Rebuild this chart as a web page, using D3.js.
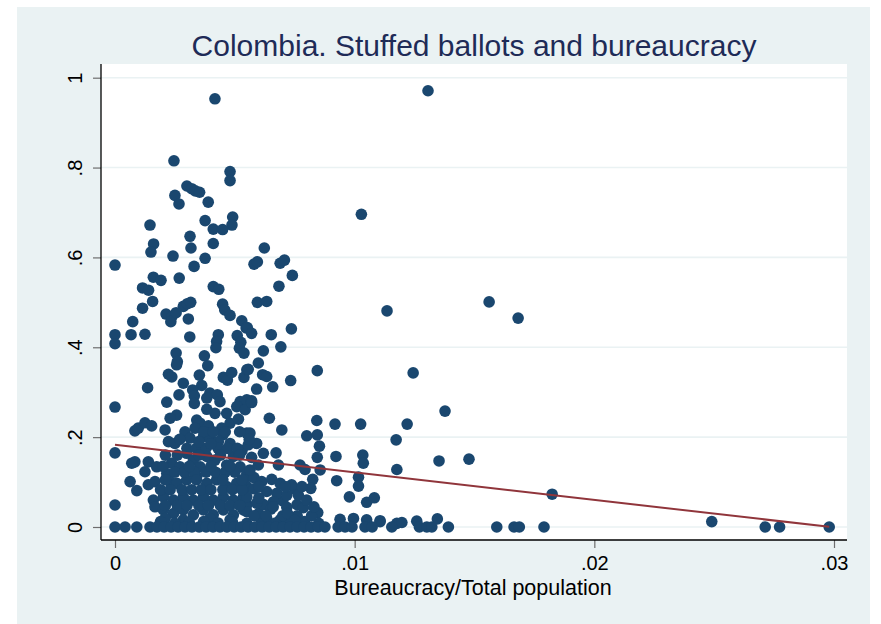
<!DOCTYPE html>
<html>
<head>
<meta charset="utf-8">
<script src="https://cdn.jsdelivr.net/npm/d3@7"></script>
<style>
  html, body { margin: 0; padding: 0; background: #ffffff; }
  svg { display: block; }
</style>
</head>
<body>
<svg id="chart" width="881" height="624"></svg>
<script>
// Axis ticks and their labels
const xTicks = [0, 0.01, 0.02, 0.03];
const xTickLabels = ["0", ".01", ".02", ".03"];
const yTicks = [0, 0.2, 0.4, 0.6, 0.8, 1];
const yTickLabels = ["0", ".2", ".4", ".6", ".8", "1"];

// Linear fit of stuffed ballots on bureaucracy share
const fitIntercept = 0.183;
const fitSlope = -6.13;
const fitRange = [0, 0.0298];

// Municipalities: [bureaucracy / total population, stuffed ballots share]
const upperPoints = [
  [.00417,.953],[.01306,.971],[.00246,.815],[.00480,.791],[.00480,.771],
  [.00300,.759],[.00320,.753],[.00335,.748],[.00353,.745],
  [.00250,.738],[.00267,.719],[.00389,.723],
  [.00146,.672],[.00376,.682],[.00491,.690],[.00488,.672],
  [.00410,.663],[.00449,.662],[.00313,.647],
  [.00161,.630],[.00150,.612],[.00317,.621],[.00410,.631],
  [.00242,.603],[.00376,.598],[0,.583],[.00330,.580],
  [.00623,.621],[.00580,.585],[.00594,.590],[.00689,.587],[.00707,.594],[.01028,.696]
];

const midPoints = [
  [.00160,.556],[.00192,.549],[.00268,.554],
  [.00115,.532],[.00140,.527],[.00410,.535],[.00433,.529],
  [.00157,.502],[.00115,.487],[.00285,.491],[.00302,.497],[.00316,.500],
  [.00213,.474],[.00237,.468],[.00233,.457],[.00255,.477],[.00306,.463],
  [.00449,.496],[.00458,.483],[.00480,.471],
  [.00074,.457],[.00529,.459],[.00547,.443],
  [0,.428],[0,.408],[.00067,.428],[.00125,.429],[.00312,.423],
  [.00431,.428],[.00424,.413],[.00421,.399],
  [.00510,.426],[.00525,.411],[.00519,.398],[.00538,.387],
  [.00255,.387],[.00260,.368],[.00257,.361],[.00373,.381],[.00387,.359],
  [.00223,.340],[.00237,.334],[.00352,.338],
  [.00452,.333],[.00469,.327],[.00487,.344],[.00538,.333],[.00550,.350],
  [.00285,.320],[.00136,.310],[.00362,.315],[.00324,.305],[.00331,.292],
  [.00267,.294],[.00396,.298],[.00427,.294],[.00383,.287],
  [0,.267],[.00216,.278],[.00331,.275],[.00438,.279],[.00522,.279],[.00550,.283],
  [.00740,.560],[.00684,.536],[.00594,.500],[.00633,.502],[.01135,.481],
  [.00552,.444],[.00570,.431],[.00736,.441],[.00652,.428],[.00692,.401],[.00619,.392],
  [.00598,.365],[.00556,.351],[.00616,.339],[.00633,.335],[.00844,.348],[.00733,.326],
  [.00591,.307],[.00658,.312],[.00570,.281],
  [.01561,.501],[.01682,.465],[.01244,.343],[.01377,.258]
];

const lowPoints = [
  [.00257,.249],[.00230,.242],[.00341,.238],[.00355,.231],[.00334,.220],
  [.00083,.214],[.00097,.220],[.00125,.232],[.00153,.225],[.00209,.216],[.00292,.212],
  [0,.165],[.00223,.190],[.00250,.186],[.00313,.198],[.00369,.201],
  [.00417,.253],[.00466,.253],[.00508,.268],[.00543,.261],[.00480,.231],
  [.00383,.262],[.00445,.220],[.00515,.240],[.00390,.225],[.00450,.205],
  [.00396,.198],[.00431,.190],[.00480,.186],[.00550,.209],
  [.00083,.145],[.00070,.142],[.00139,.145],[.00125,.123],[.00174,.134],
  [.00063,.101],[.00091,.081],[0,.049],[.00139,.094],[.00167,.101],
  [.00160,.060],[.00167,.045],
  [.00216,.119],[.00236,.142],[.00271,.134],
  [.00299,.164],[.00327,.149],[.00355,.134],[.00383,.157],[.00417,.149],
  [.00466,.138],[.00494,.157],[.00522,.134],[.00550,.119],
  [.00230,.101],[.00258,.097],[.00299,.105],[.00341,.112],[.00383,.097],
  [.00424,.105],[.00466,.090],[.00508,.097],[.00550,.090],
  [.00202,.067],[.00244,.060],[.00285,.067],[.00327,.060],[.00369,.067],
  [.00410,.060],[.00452,.067],[.00494,.060],[.00536,.067],
  [.00202,.038],[.00244,.030],[.00285,.038],[.00327,.027],[.00369,.038],
  [.00410,.027],[.00452,.038],[.00494,.027],[.00536,.038],
  [.00209,.019],[.00285,.016],[.00396,.019],[.00480,.016],
  [.00530,.170],[.00570,.155],[.00540,.105],[.00580,.110],[.00550,.050],
  [.00600,.030],[.00580,.085],[.00620,.050],
  [.00750,.085],[.00700,.058],[.00650,.040],[.00760,.050],
  [.00570,.277],[.00644,.242],[.00696,.216],[.00842,.237],[.00918,.229],[.01025,.229],
  [.00563,.209],[.00800,.203],[.00844,.205],[.00853,.180],[.01173,.194],
  [.00556,.183],[.00591,.186],[.00619,.164],[.00672,.165],[.00682,.138],
  [.00844,.155],[.00922,.157],[.01034,.160],[.01036,.142],[.01176,.128],
  [.00772,.138],[.00793,.128],[.00856,.127],[.00563,.127],[.00598,.138],
  [.00825,.106],[.00925,.103],[.01016,.111],[.01016,.091],
  [.00612,.101],[.00654,.106],[.00689,.097],[.00737,.094],[.00817,.086],
  [.00633,.079],[.00675,.075],[.00717,.071],[.00765,.071],[.00978,.067],
  [.01050,.055],[.01082,.065],
  [.00550,.067],[.00591,.053],[.00661,.056],[.00717,.044],[.00786,.043],
  [.00846,.032],[.00550,.034],
  [.00633,.019],[.00689,.016],[.00939,.017],[.00995,.019],[.01050,.016],[.01106,.014],
  [.01219,.229],[.01352,.147],[.01477,.151],[.01824,.073],
  [.01106,.012],[.01176,.008],[.01197,.010],[.01259,.013],[.01345,.018],[.02490,.012],
  [.0019,.012],[.0025,.008],[.0031,.010],[.0037,.012],[.0043,.009],[.0049,.011],
  [.0055,.008],[.0061,.011],[.0067,.009],[.0073,.010],[.0079,.012],[.0085,.008]
];

// The crowded core of low-bureaucracy municipalities
const corePoints = [
  [.0021,.048],[.0026,.048],[.0030,.048],[.0035,.048],[.0039,.048],[.0044,.048],[.0048,.048],[.0052,.048],
  [.0019,.083],[.0023,.083],[.0028,.083],[.0032,.083],[.0036,.083],[.0040,.083],[.0045,.083],[.0049,.083],[.0053,.083],
  [.0025,.122],[.0029,.122],[.0033,.122],[.0038,.122],[.0042,.122],[.0046,.122],[.0050,.122],
  [.0030,.175],[.0034,.175],[.0038,.175],[.0043,.175],[.0047,.175],[.0051,.175],
  [.0037,.212],[.0041,.212],[.0046,.212],[.0052,.212],
  [.0058,.025],[.0063,.025],[.0070,.025],[.0076,.025],[.0082,.025],
  [.0060,.090],[.0071,.090],[.0078,.090],
  [.0020,.135],[.0031,.135],[.0040,.135],[.0048,.135],
  [.0021,.160],[.0026,.160],[.0035,.160],[.0044,.160],[.0052,.160],
  [.0027,.195],[.0035,.190],[.0040,.185],[.0056,.195],
  [.0021,.105],[.0034,.105],[.0045,.105],[.0053,.105],
  [.0066,.045],[.0072,.030],[.0080,.060],[.0075,.015],[.0083,.045],[.0060,.065]
];

// Municipalities with no stuffed ballots: bureaucracy share only
const zeroRow = [
  0,.00042,.00091,.00146,.00175,.00205,.00234,.00263,.00292,.00321,.00351,.00380,
  .00409,.00438,.00467,.00497,.00526,.00555,.00584,.00614,.00643,.00672,.00701,.00730,
  .00760,.00789,.00818,.00847,.00876,.00931,.00960,.00989,.01043,.01073,.01155,.01270,
  .01301,.01322,.01391,.01593,.01665,.01687,.01790,.02713,.02773,.02980
];

const W = 881, H = 624;
const plot = { left: 101, right: 847, top: 64, bottom: 540 };

const x = d3.scaleLinear().domain([0, 0.03]).range([115, 834]);
const y = d3.scaleLinear().domain([0, 1]).range([527, 77.7]);

const svg = d3.select("#chart");
const font = "'Liberation Sans', Arial, Helvetica, sans-serif";

// Graph region background
svg.append("rect").attr("x", 17).attr("y", 7).attr("width", 853).attr("height", H - 7)
  .attr("fill", "#eaf2f3");

// Plot region
svg.append("rect")
  .attr("x", plot.left).attr("y", plot.top)
  .attr("width", plot.right - plot.left).attr("height", plot.bottom - plot.top)
  .attr("fill", "#ffffff");

// Horizontal grid lines
svg.append("g").selectAll("line").data(yTicks).join("line")
  .attr("x1", plot.left).attr("x2", plot.right)
  .attr("y1", d => y(d)).attr("y2", d => y(d))
  .attr("stroke", "#eaf2f3").attr("stroke-width", 1.6);

// Title
svg.append("text")
  .attr("x", (plot.left + plot.right) / 2).attr("y", 56)
  .attr("text-anchor", "middle")
  .attr("font-family", font).attr("font-size", 30)
  .attr("fill", "#1e2b57")
  .text("Colombia. Stuffed ballots and bureaucracy");

// Scatter points
const allPoints = upperPoints.concat(midPoints, lowPoints, corePoints, zeroRow.map(v => [v, 0]));
svg.append("g").selectAll("circle").data(allPoints).join("circle")
  .attr("cx", d => x(d[0])).attr("cy", d => y(d[1]))
  .attr("r", 5.8)
  .attr("fill", "#1a476f");

// Fitted line
const fitLine = d3.line().x(d => x(d)).y(d => y(fitIntercept + fitSlope * d));
svg.append("path")
  .attr("d", fitLine(fitRange))
  .attr("fill", "none").attr("stroke", "#90353b").attr("stroke-width", 2);

// Y axis
const yAxis = d3.axisLeft(y).tickValues(yTicks)
  .tickFormat((d, i) => yTickLabels[i]).tickSize(8).tickPadding(10);
const gy = svg.append("g").attr("transform", `translate(${plot.left},0)`).call(yAxis);
gy.select(".domain").remove();
gy.selectAll(".tick line").attr("stroke", "#6e6e6e").attr("stroke-width", 1.2);
gy.selectAll(".tick text")
  .attr("font-family", font).attr("font-size", 20).attr("fill", "#000")
  .attr("text-anchor", "middle")
  .attr("x", 0).attr("dy", 0)
  .attr("transform", "translate(-19,0) rotate(-90)");
svg.append("line")
  .attr("x1", plot.left).attr("x2", plot.left)
  .attr("y1", plot.top).attr("y2", plot.bottom)
  .attr("stroke", "#000").attr("stroke-width", 1.3);

// X axis
const xAxis = d3.axisBottom(x).tickValues(xTicks)
  .tickFormat((d, i) => xTickLabels[i]).tickSize(8).tickPadding(8);
const gx = svg.append("g").attr("transform", `translate(0,${plot.bottom})`).call(xAxis);
gx.select(".domain").remove();
gx.selectAll(".tick line").attr("stroke", "#6e6e6e").attr("stroke-width", 1.2);
gx.selectAll(".tick text")
  .attr("font-family", font).attr("font-size", 20).attr("fill", "#000");
svg.append("line")
  .attr("x1", plot.left).attr("x2", plot.right)
  .attr("y1", plot.bottom).attr("y2", plot.bottom)
  .attr("stroke", "#000").attr("stroke-width", 1.3);

// X axis title
svg.append("text")
  .attr("x", 473).attr("y", 595)
  .attr("text-anchor", "middle")
  .attr("font-family", font).attr("font-size", 21.5).attr("fill", "#000")
  .text("Bureaucracy/Total population");
</script>
</body>
</html>
